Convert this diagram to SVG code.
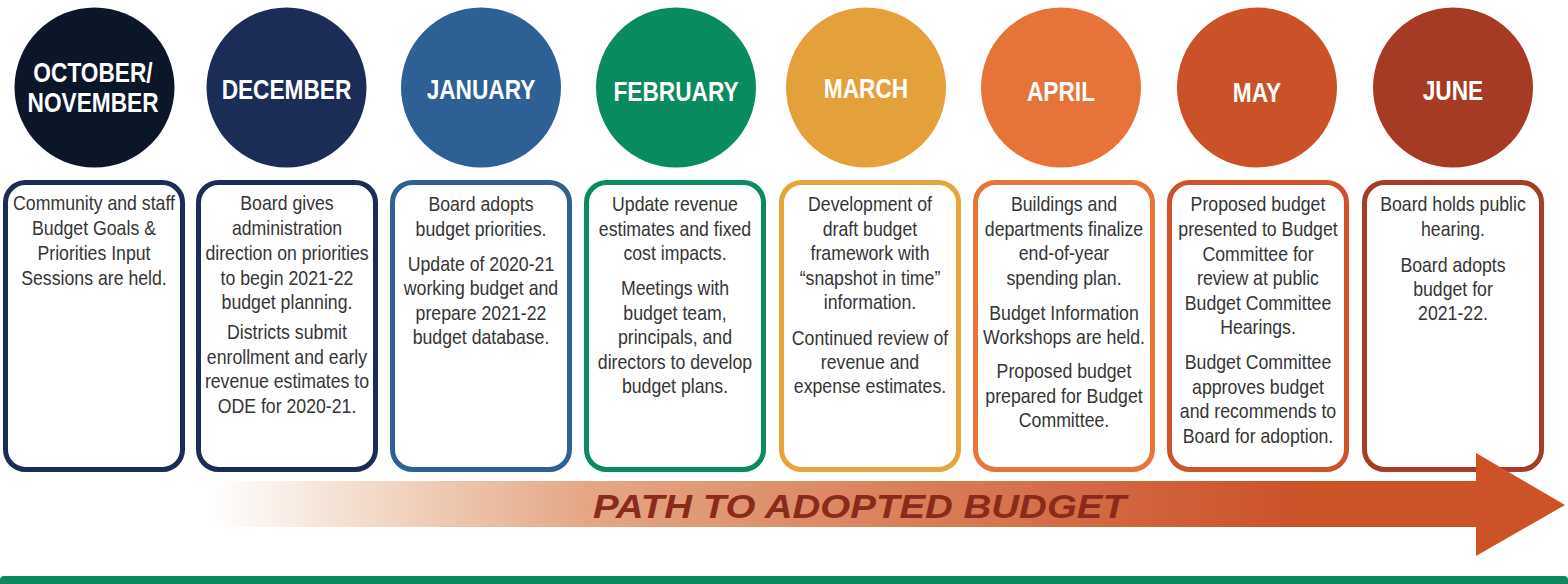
<svg xmlns="http://www.w3.org/2000/svg" width="1568" height="584" viewBox="0 0 1568 584">
<defs>
<style>
.hd{font-family:"Liberation Sans",Arial,sans-serif;font-weight:bold;font-size:28px;fill:#ffffff;text-anchor:middle}
.bd{font-family:"Liberation Sans",Arial,sans-serif;font-size:20px;fill:#353535;text-anchor:middle}
.box{fill:#ffffff;stroke-width:5}
.ttl{font-family:"Liberation Sans",Arial,sans-serif;font-weight:bold;font-style:italic;font-size:33px;fill:#8a2a1b;text-anchor:middle}
</style>
<linearGradient id="arrowGrad" gradientUnits="userSpaceOnUse" x1="210" y1="0" x2="1476" y2="0">
<stop offset="0" stop-color="#ffffff"/>
<stop offset="0.134" stop-color="#f2d8c6"/>
<stop offset="0.292" stop-color="#e4a887"/>
<stop offset="0.513" stop-color="#dc8560"/>
<stop offset="0.75" stop-color="#d1613a"/>
<stop offset="0.86" stop-color="#cc5228"/>
<stop offset="1" stop-color="#cc5228"/>
</linearGradient>
</defs>
<rect width="1568" height="584" fill="#ffffff"/>

<g id="oct-nov">
<circle cx="94.5" cy="87.5" r="80" fill="#0c1629"/>
<g transform="translate(93,0) scale(0.81,1)"><text class="hd" x="0" y="82">OCTOBER/</text><text class="hd" x="0" y="112">NOVEMBER</text></g>
<rect class="box" x="5.5" y="182.5" width="177" height="287" rx="20" stroke="#1b2d56"/>
<g transform="translate(94,0) scale(0.885,1)">
<text class="bd" x="0" y="210">Community and staff</text>
<text class="bd" x="0" y="235">Budget Goals &amp;</text>
<text class="bd" x="0" y="260">Priorities Input</text>
<text class="bd" x="0" y="285">Sessions are held.</text>
</g>
</g>

<g id="december">
<circle cx="286.5" cy="87.5" r="80" fill="#1b2d56"/>
<g transform="translate(286.5,0) scale(0.81,1)"><text class="hd" x="0" y="99">DECEMBER</text></g>
<rect class="box" x="198.5" y="182.5" width="177" height="287" rx="20" stroke="#1b2d56"/>
<g transform="translate(287,0) scale(0.885,1)">
<text class="bd" x="0" y="210">Board gives</text>
<text class="bd" x="0" y="235">administration</text>
<text class="bd" x="0" y="260">direction on priorities</text>
<text class="bd" x="0" y="285">to begin 2021-22</text>
<text class="bd" x="0" y="309">budget planning.</text>
<text class="bd" x="0" y="339">Districts submit</text>
<text class="bd" x="0" y="364">enrollment and early</text>
<text class="bd" x="0" y="388">revenue estimates to</text>
<text class="bd" x="0" y="413">ODE for 2020-21.</text>
</g>
</g>

<g id="january">
<circle cx="481" cy="87.5" r="80" fill="#2e6096"/>
<g transform="translate(481,0) scale(0.81,1)"><text class="hd" x="0" y="99">JANUARY</text></g>
<rect class="box" x="392.5" y="182.5" width="177" height="287" rx="20" stroke="#2e6096"/>
<g transform="translate(481,0) scale(0.885,1)">
<text class="bd" x="0" y="211">Board adopts</text>
<text class="bd" x="0" y="236">budget priorities.</text>
<text class="bd" x="0" y="271">Update of 2020-21</text>
<text class="bd" x="0" y="295">working budget and</text>
<text class="bd" x="0" y="320">prepare 2021-22</text>
<text class="bd" x="0" y="344">budget database.</text>
</g>
</g>

<g id="february">
<circle cx="676" cy="87.5" r="80" fill="#0a8a5f"/>
<g transform="translate(676,0) scale(0.81,1)"><text class="hd" x="0" y="101">FEBRUARY</text></g>
<rect class="box" x="586.5" y="182.5" width="177" height="287" rx="20" stroke="#0a8a5f"/>
<g transform="translate(675,0) scale(0.885,1)">
<text class="bd" x="0" y="211">Update revenue</text>
<text class="bd" x="0" y="236">estimates and fixed</text>
<text class="bd" x="0" y="260">cost impacts.</text>
<text class="bd" x="0" y="295">Meetings with</text>
<text class="bd" x="0" y="320">budget team,</text>
<text class="bd" x="0" y="344">principals, and</text>
<text class="bd" x="0" y="369">directors to develop</text>
<text class="bd" x="0" y="393">budget plans.</text>
</g>
</g>

<g id="march">
<circle cx="866" cy="87.5" r="80" fill="#e4a03a"/>
<g transform="translate(866,0) scale(0.81,1)"><text class="hd" x="0" y="98">MARCH</text></g>
<rect class="box" x="781.5" y="182.5" width="177" height="287" rx="20" stroke="#e6a53a"/>
<g transform="translate(870,0) scale(0.885,1)">
<text class="bd" x="0" y="211">Development of</text>
<text class="bd" x="0" y="236">draft budget</text>
<text class="bd" x="0" y="260">framework with</text>
<text class="bd" x="0" y="285">“snapshot in time”</text>
<text class="bd" x="0" y="309">information.</text>
<text class="bd" x="0" y="345">Continued review of</text>
<text class="bd" x="0" y="369">revenue and</text>
<text class="bd" x="0" y="393">expense estimates.</text>
</g>
</g>

<g id="april">
<circle cx="1061" cy="87.5" r="80" fill="#e6743a"/>
<g transform="translate(1061,0) scale(0.81,1)"><text class="hd" x="0" y="101.5">APRIL</text></g>
<rect class="box" x="975.5" y="182.5" width="177" height="287" rx="20" stroke="#e8743a"/>
<g transform="translate(1064,0) scale(0.885,1)">
<text class="bd" x="0" y="211">Buildings and</text>
<text class="bd" x="0" y="236">departments finalize</text>
<text class="bd" x="0" y="260">end-of-year</text>
<text class="bd" x="0" y="285">spending plan.</text>
<text class="bd" x="0" y="320">Budget Information</text>
<text class="bd" x="0" y="344">Workshops are held.</text>
<text class="bd" x="0" y="378">Proposed budget</text>
<text class="bd" x="0" y="403">prepared for Budget</text>
<text class="bd" x="0" y="427">Committee.</text>
</g>
</g>

<g id="may">
<circle cx="1257" cy="87.5" r="80" fill="#cb5228"/>
<g transform="translate(1257,0) scale(0.81,1)"><text class="hd" x="0" y="102">MAY</text></g>
<rect class="box" x="1169.5" y="182.5" width="177" height="287" rx="20" stroke="#cf5328"/>
<g transform="translate(1258,0) scale(0.885,1)">
<text class="bd" x="0" y="211">Proposed budget</text>
<text class="bd" x="0" y="236">presented to Budget</text>
<text class="bd" x="0" y="261">Committee for</text>
<text class="bd" x="0" y="285">review at public</text>
<text class="bd" x="0" y="310">Budget Committee</text>
<text class="bd" x="0" y="334">Hearings.</text>
<text class="bd" x="0" y="369">Budget Committee</text>
<text class="bd" x="0" y="394">approves budget</text>
<text class="bd" x="0" y="418">and recommends to</text>
<text class="bd" x="0" y="443">Board for adoption.</text>
</g>
</g>

<g id="june">
<circle cx="1453" cy="87.5" r="80" fill="#a53b24"/>
<g transform="translate(1453,0) scale(0.81,1)"><text class="hd" x="0" y="100">JUNE</text></g>
<rect class="box" x="1364.5" y="182.5" width="177" height="287" rx="20" stroke="#a63c25"/>
<g transform="translate(1453,0) scale(0.885,1)">
<text class="bd" x="0" y="211">Board holds public</text>
<text class="bd" x="0" y="236">hearing.</text>
<text class="bd" x="0" y="272">Board adopts</text>
<text class="bd" x="0" y="296">budget for</text>
<text class="bd" x="0" y="320">2021-22.</text>
</g>
</g>

<g id="connectors">
<path d="M211,481 H1476 V453 L1565,505 L1476,556 V527 H211 Z" fill="url(#arrowGrad)"/>
<text class="ttl" x="859.5" y="518" textLength="533" lengthAdjust="spacingAndGlyphs">PATH TO ADOPTED BUDGET</text>
</g>

<rect id="footer-bar" x="0" y="576" width="1568" height="12" rx="4" fill="#0a8a5f"/>
</svg>
